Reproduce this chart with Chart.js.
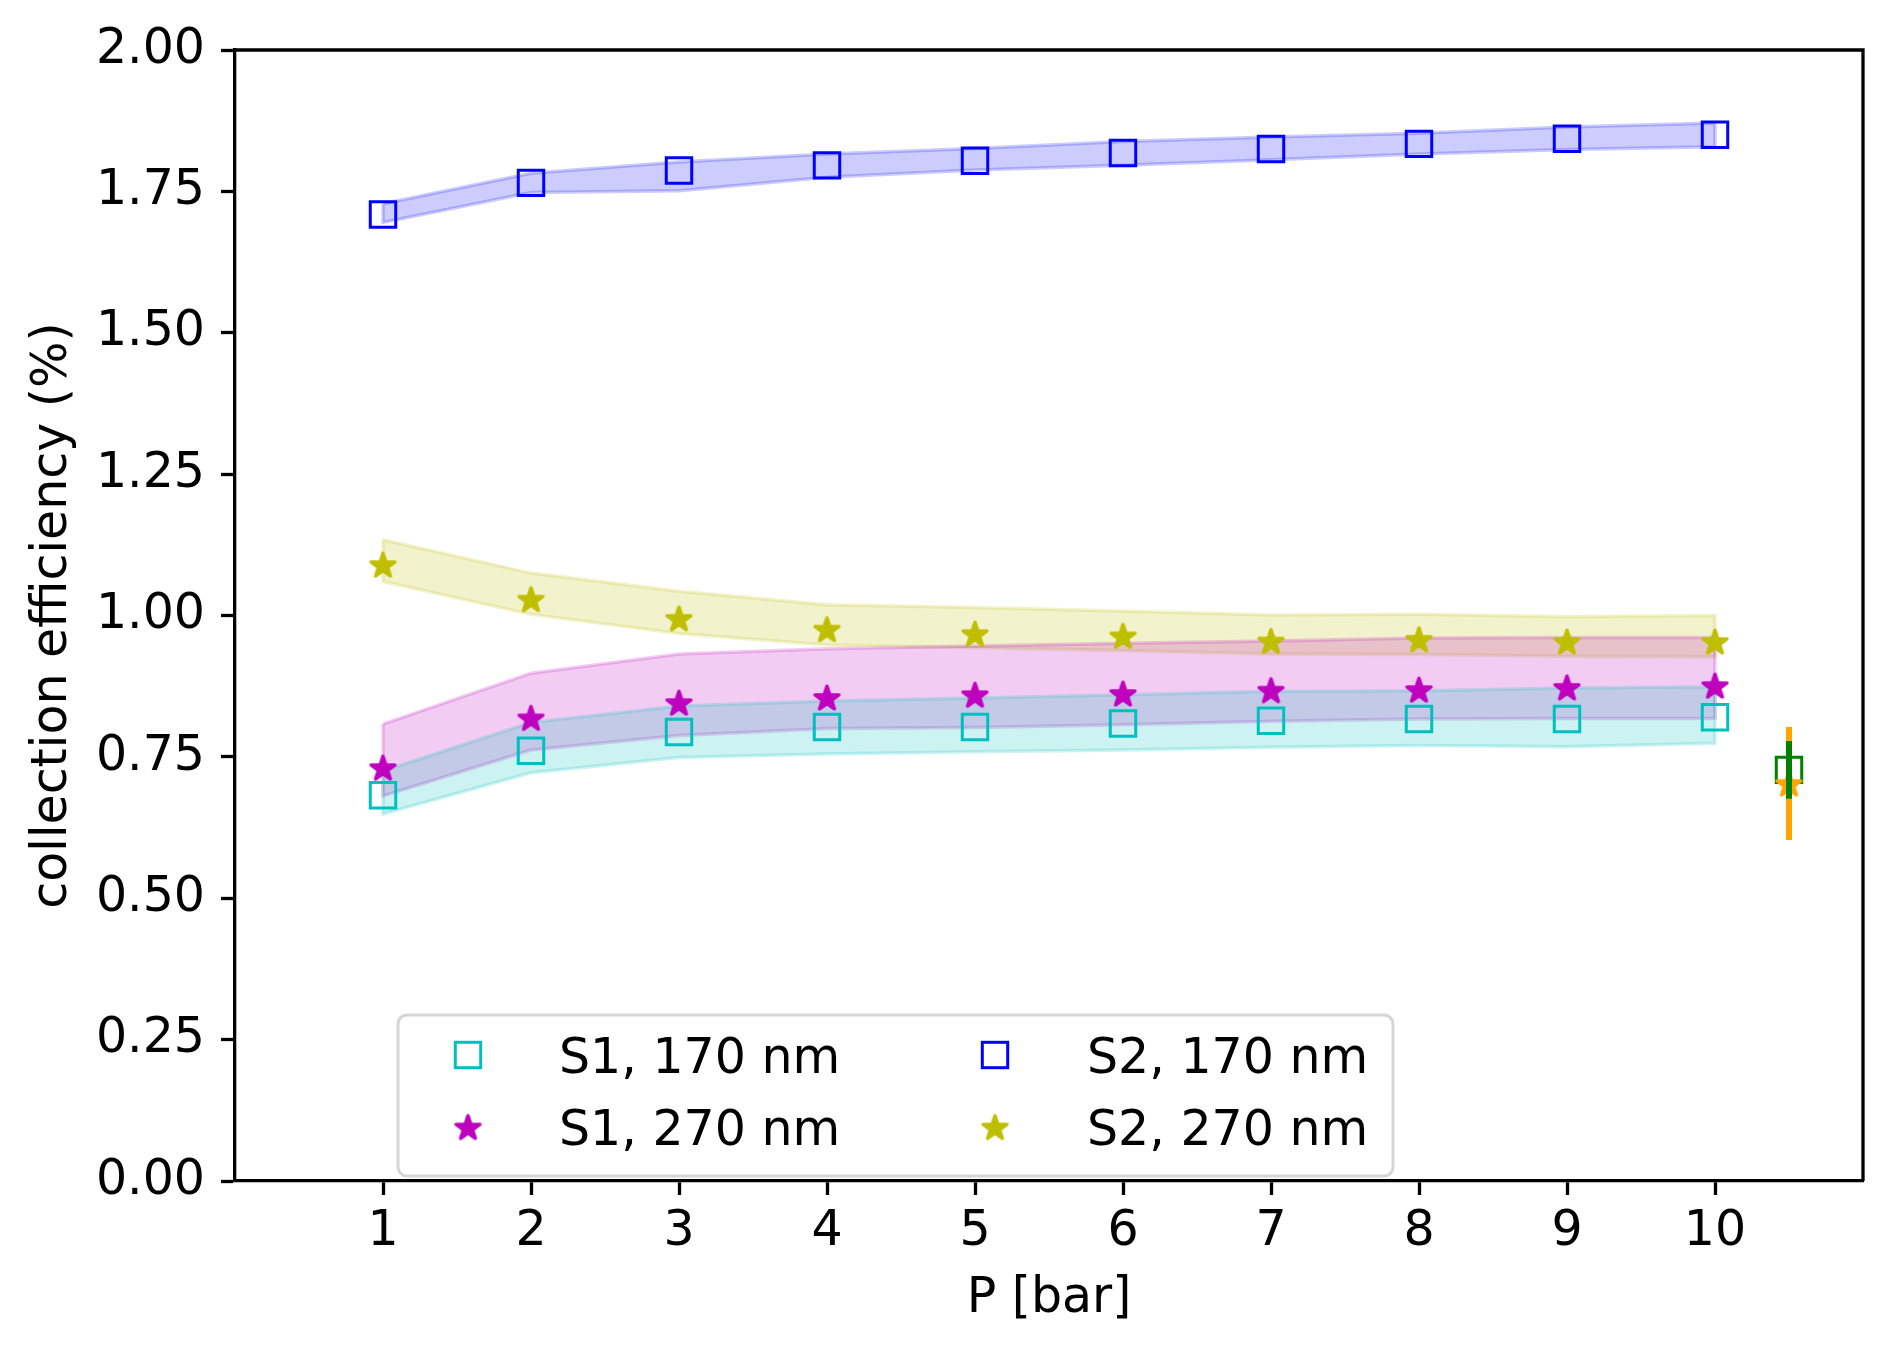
<!DOCTYPE html>
<html>
<head>
<meta charset="utf-8">
<script src="https://cdn.jsdelivr.net/npm/chart.js@4.4.1/dist/chart.umd.min.js"></script>
<style>
  html, body { margin: 0; padding: 0; background: #fff; }
</style>
</head>
<body>
<canvas id="chart" width="1892" height="1353"></canvas>
<script>
'use strict';

// pressure [bar]
const pressure = [1, 2, 3, 4, 5, 6, 7, 8, 9, 10];

// S1, 170 nm
const s1Uv = [0.682, 0.761, 0.794, 0.803, 0.803, 0.809, 0.814, 0.817, 0.817, 0.820];
const s1UvHigh = [0.725, 0.811, 0.840, 0.849, 0.854, 0.860, 0.866, 0.867, 0.872, 0.874];
const s1UvLow = [0.649, 0.722, 0.749, 0.755, 0.759, 0.762, 0.767, 0.770, 0.768, 0.774];

// S1, 270 nm
const s1Vis = [0.731, 0.819, 0.846, 0.855, 0.860, 0.862, 0.868, 0.869, 0.873, 0.876];
const s1VisHigh = [0.808, 0.898, 0.932, 0.941, 0.946, 0.951, 0.955, 0.960, 0.961, 0.961];
const s1VisLow = [0.681, 0.762, 0.788, 0.800, 0.802, 0.807, 0.813, 0.817, 0.818, 0.818];

// S2, 170 nm
const s2Uv = [1.709, 1.765, 1.787, 1.796, 1.804, 1.818, 1.825, 1.834, 1.843, 1.850];
const s2UvHigh = [1.728, 1.782, 1.802, 1.816, 1.826, 1.838, 1.846, 1.853, 1.864, 1.871];
const s2UvLow = [1.695, 1.748, 1.751, 1.775, 1.788, 1.796, 1.806, 1.816, 1.824, 1.829];

// S2, 270 nm
const s2Vis = [1.090, 1.029, 0.995, 0.976, 0.968, 0.964, 0.955, 0.958, 0.954, 0.954];
const s2VisHigh = [1.134, 1.075, 1.043, 1.019, 1.014, 1.008, 1.001, 1.002, 0.998, 1.000];
const s2VisLow = [1.060, 1.002, 0.968, 0.948, 0.943, 0.938, 0.932, 0.931, 0.928, 0.927];

// single measurement drawn beside the scan
const measX = 10.5;
const measGreen = 0.727;
const measGreenErr = 0.051;
const measOrange = 0.703;
const measOrangeErr = 0.100;

const seriesLabels = ['S1, 170 nm', 'S1, 270 nm', 'S2, 170 nm', 'S2, 270 nm'];
const xTicks = [1, 2, 3, 4, 5, 6, 7, 8, 9, 10];
const yTicks = [0, 0.25, 0.5, 0.75, 1, 1.25, 1.5, 1.75, 2];

const FONT = 'DejaVu Sans';
const FONT_SIZE = 49;

function rgba(rgb, a) {
  return 'rgba(' + rgb.join(',') + ',' + a + ')';
}

const cyan = [0, 191, 191];
const magenta = [191, 0, 191];
const blue = [0, 0, 255];
const olive = [191, 191, 0];
const green = [0, 128, 0];
const orange = [255, 165, 0];

function toPoints(xs, ys) {
  return xs.map(function(x, i) {
    return {x: x, y: ys[i]};
  });
}

// closed outline: upper edge left to right, lower edge back
function bandPolygon(xs, high, low) {
  let pts = toPoints(xs, high);
  for(let i = xs.length - 1; i >= 0; i--) {
    pts.push({x: xs[i], y: low[i]});
  }
  pts.push({x: xs[0], y: high[0]});
  return pts;
}

function makeStar(rgb, r) {
  const size = Math.ceil(2 * r + 8);
  const c = document.createElement('canvas');
  c.width = size;
  c.height = size;
  const ctx = c.getContext('2d');
  const cx = size / 2, cy = size / 2 + r * 0.1;
  const inner = r * 0.381966;
  ctx.beginPath();
  for(let i = 0; i < 10; i++) {
    const rad = i % 2 === 0 ? r : inner;
    const a = -Math.PI / 2 + i * Math.PI / 5;
    const px = cx + rad * Math.cos(a);
    const py = cy + rad * Math.sin(a);
    if(i === 0) ctx.moveTo(px, py); else ctx.lineTo(px, py);
  }
  ctx.closePath();
  ctx.fillStyle = rgba(rgb, 1);
  ctx.fill();
  ctx.lineJoin = 'round';
  ctx.lineWidth = 3.5;
  ctx.strokeStyle = rgba(rgb, 1);
  ctx.stroke();
  return c;
}

function bandDataset(high, low, rgb) {
  return {
    data: bandPolygon(pressure, high, low),
    showLine: true,
    fill: 'shape',
    backgroundColor: rgba(rgb, 0.2),
    borderColor: rgba(rgb, 0.2),
    borderWidth: 3.5,
    pointRadius: 0,
    tension: 0,
    order: 5
  };
}

function squareDataset(xs, ys, rgb, order) {
  return {
    data: toPoints(xs, ys),
    showLine: false,
    pointStyle: 'rect',
    pointRadius: 18,
    pointBorderWidth: 3,
    pointBorderColor: rgba(rgb, 1),
    pointBackgroundColor: 'rgba(0,0,0,0)',
    order: order
  };
}

function starDataset(xs, ys, rgb, order) {
  return {
    data: toPoints(xs, ys),
    showLine: false,
    pointStyle: makeStar(rgb, 12.5),
    pointRadius: 13,
    order: order
  };
}

function errorBarDataset(x, value, err, rgb, order) {
  return {
    data: [{x: x, y: value - err}, {x: x, y: value + err}],
    showLine: true,
    fill: false,
    borderColor: rgba(rgb, 1),
    borderWidth: 6,
    borderCapStyle: 'butt',
    pointRadius: 0,
    order: order
  };
}

const markerSets = [
  squareDataset(pressure, s1Uv, cyan, 4),
  starDataset(pressure, s1Vis, magenta, 4),
  squareDataset(pressure, s2Uv, blue, 4),
  starDataset(pressure, s2Vis, olive, 4)
];

const bandSets = [
  bandDataset(s1UvHigh, s1UvLow, cyan),
  bandDataset(s1VisHigh, s1VisLow, magenta),
  bandDataset(s2UvHigh, s2UvLow, blue),
  bandDataset(s2VisHigh, s2VisLow, olive)
];

const measSets = [
  errorBarDataset(measX, measGreen, measGreenErr, green, 0),
  starDataset([measX], [measOrange], orange, 1),
  squareDataset([measX], [measGreen], green, 2),
  errorBarDataset(measX, measOrange, measOrangeErr, orange, 3)
];

// top and right spines
const framePlugin = {
  id: 'frame',
  afterDatasetsDraw: function(chart) {
    const a = chart.chartArea;
    const ctx = chart.ctx;
    ctx.save();
    ctx.strokeStyle = '#000';
    ctx.lineWidth = 3.3;
    ctx.beginPath();
    ctx.moveTo(a.left, a.top);
    ctx.lineTo(a.right, a.top);
    ctx.lineTo(a.right, a.bottom);
    ctx.stroke();
    ctx.restore();
  }
};

// two column legend in a rounded box, like matplotlib
const legendPlugin = {
  id: 'boxLegend',
  afterDraw: function(chart) {
    const a = chart.chartArea;
    const ctx = chart.ctx;
    const left = a.left + 163;
    const top = a.bottom - 166;
    const w = 995, h = 161, r = 9;

    ctx.save();
    ctx.beginPath();
    ctx.roundRect(left, top, w, h, r);
    ctx.fillStyle = 'rgba(255,255,255,0.8)';
    ctx.fill();
    ctx.lineWidth = 3;
    ctx.strokeStyle = 'rgba(204,204,204,0.8)';
    ctx.stroke();

    ctx.font = FONT_SIZE + 'px "' + FONT + '"';
    ctx.fillStyle = '#000';
    ctx.textAlign = 'left';
    ctx.textBaseline = 'alphabetic';

    for(let i = 0; i < markerSets.length; i++) {
      const ds = markerSets[i];
      const col = Math.floor(i / 2);
      const row = i % 2;
      const mx = left + 70 + col * 527;
      const my = top + 40 + row * 72;
      if(ds.pointStyle === 'rect') {
        const s = 12.7;
        ctx.lineWidth = ds.pointBorderWidth;
        ctx.strokeStyle = ds.pointBorderColor;
        ctx.strokeRect(mx - s, my - s, 2 * s, 2 * s);
      } else {
        const img = ds.pointStyle;
        ctx.drawImage(img, mx - img.width / 2, my - img.height / 2);
      }
      ctx.fillText(seriesLabels[i], left + 161 + col * 528, my + 17.5);
    }
    ctx.restore();
  }
};

Chart.defaults.font.family = FONT;
Chart.defaults.font.size = FONT_SIZE;
Chart.defaults.color = '#000';

const chart = new Chart(document.getElementById('chart'), {
  type: 'line',
  data: {
    datasets: measSets.concat(markerSets, bandSets)
  },
  options: {
    responsive: false,
    animation: false,
    events: [],
    devicePixelRatio: 1,
    layout: {
      padding: {top: 50, right: 29, left: 0, bottom: 0}
    },
    plugins: {
      legend: {display: false},
      tooltip: {enabled: false}
    },
    scales: {
      x: {
        type: 'linear',
        min: 0,
        max: 11,
        afterBuildTicks: function(scale) {
          scale.ticks = xTicks.map(function(v) { return {value: v}; });
        },
        afterFit: function(scale) {
          scale.height = 172;
        },
        ticks: {
          padding: 8,
          maxRotation: 0,
          callback: function(v) { return String(v); }
        },
        grid: {
          drawOnChartArea: false,
          tickLength: 14,
          tickWidth: 3.3,
          tickColor: '#000'
        },
        border: {color: '#000', width: 3.3},
        title: {
          display: true,
          text: 'P [bar]',
          padding: {top: 0, bottom: 24}
        }
      },
      y: {
        type: 'linear',
        min: 0,
        max: 2,
        afterBuildTicks: function(scale) {
          scale.ticks = yTicks.map(function(v) { return {value: v}; });
        },
        afterFit: function(scale) {
          scale.width = 235;
        },
        ticks: {
          padding: 16,
          callback: function(v) { return v.toFixed(2); }
        },
        grid: {
          drawOnChartArea: false,
          tickLength: 14,
          tickWidth: 3.3,
          tickColor: '#000'
        },
        border: {color: '#000', width: 3.3},
        title: {
          display: true,
          text: 'collection efficiency (%)',
          padding: {top: 24, bottom: 0}
        }
      }
    }
  },
  plugins: [framePlugin, legendPlugin]
});
</script>
</body>
</html>
